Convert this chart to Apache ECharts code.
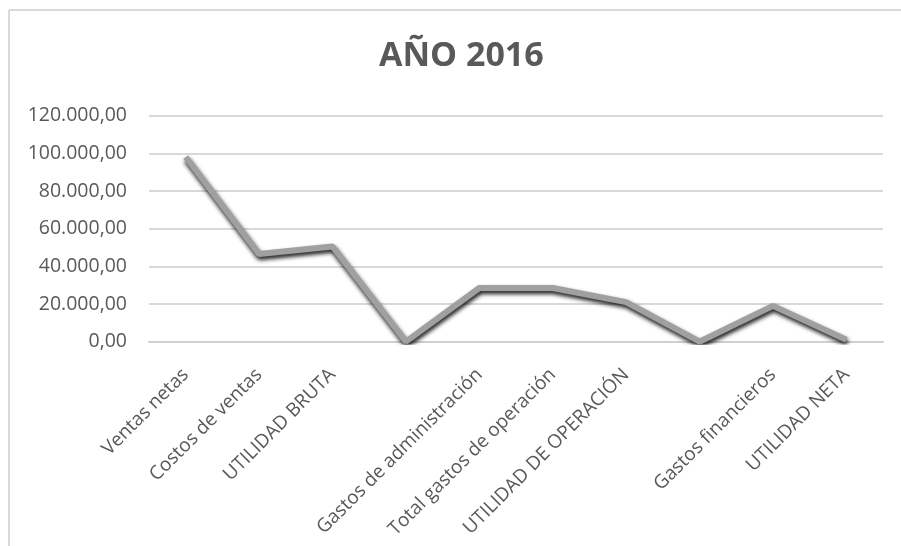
<!DOCTYPE html>
<html>
<head>
<meta charset="utf-8">
<script src="https://cdn.jsdelivr.net/npm/echarts@6/dist/echarts.min.js"></script>
<style>
  html, body { margin: 0; padding: 0; background: #fff; }
  #main { width: 901px; height: 546px; }
</style>
</head>
<body>
<div id="main"></div>
<script>
  const categories = [
    'Ventas netas', 'Costos de ventas', 'UTILIDAD BRUTA', '',
    'Gastos de administración', 'Total gastos de operación', 'UTILIDAD DE OPERACIÓN', '',
    'Gastos financieros', 'UTILIDAD NETA'
  ]
  const values = [98000, 46500, 50500, 0, 28500, 28500, 21000, 0, 19000, 1000]
  const yTicks = { min: 0, max: 120000, interval: 20000 }

  const fmt = (v) => v.toLocaleString('de-DE', { minimumFractionDigits: 2, maximumFractionDigits: 2 })

  const chart = echarts.init(document.getElementById('main'))
  chart.setOption({
    backgroundColor: '#fff',
    animation: false,
    textStyle: { fontFamily: 'Open Sans' },
    title: {
      text: 'AÑO 2016',
      left: 374,
      top: 34,
      textStyle: { fontSize: 34, fontWeight: 'bold', color: '#595959', fontFamily: 'Open Sans' },
    },
    graphic: [
      { type: 'line', shape: { x1: 9, y1: 10, x2: 901, y2: 10 }, style: { stroke: '#d9d9d9', lineWidth: 2 } },
      { type: 'line', shape: { x1: 9, y1: 10, x2: 9, y2: 546 }, style: { stroke: '#d9d9d9', lineWidth: 2 } },
    ],
    grid: { left: 149, right: 18, top: 115.6, bottom: 204.3, containLabel: false },
    xAxis: {
      type: 'category',
      data: categories,
      boundaryGap: true,
      axisLine: { show: true, lineStyle: { color: '#d0d0d0', width: 2 } },
      axisTick: { show: false },
      axisLabel: { interval: 0, rotate: 45, margin: 30, fontSize: 19, color: '#595959' },
    },
    yAxis: {
      type: 'value',
      min: yTicks.min,
      max: yTicks.max,
      interval: yTicks.interval,
      axisLine: { show: false },
      axisTick: { show: false },
      splitLine: { lineStyle: { color: '#d9d9d9', width: 2 } },
      axisLabel: { formatter: fmt, fontSize: 19.5, color: '#595959', margin: 22 },
    },
    series: [
      {
        type: 'line',
        data: values,
        showSymbol: false,
        lineStyle: {
          color: '#a0a0a0',
          width: 6,
          shadowColor: 'rgba(0,0,0,0.9)',
          shadowBlur: 4,
          shadowOffsetX: 1,
          shadowOffsetY: 3,
        },
      },
    ],
  })
</script>
</body>
</html>
